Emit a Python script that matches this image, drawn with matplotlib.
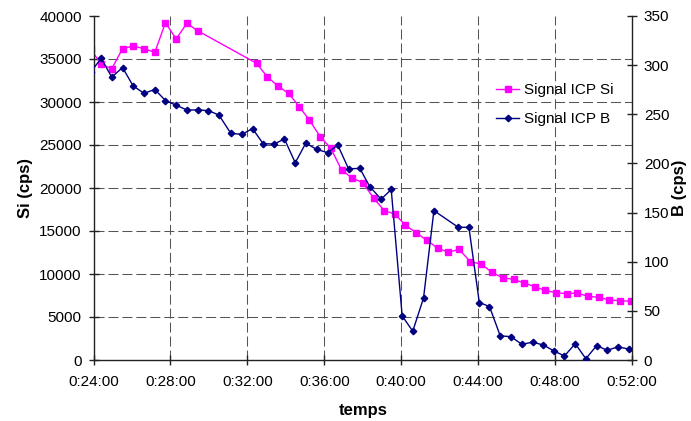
import matplotlib.pyplot as plt
from matplotlib.ticker import MultipleLocator, FuncFormatter

plt.rcParams['font.family'] = ['Liberation Sans', 'DejaVu Sans']

# times in minutes after 0:00:00
t_si = [23.85, 24.40, 24.95, 25.51, 26.06, 26.62, 27.19, 27.74, 28.30, 28.85,
        29.41, 32.48, 33.03, 33.58, 34.14, 34.70, 35.23, 35.79, 36.34, 36.90,
        37.45, 38.00, 38.56, 39.12, 39.67, 40.22, 40.78, 41.33, 41.89, 42.45,
        43.00, 43.60, 44.16, 44.71, 45.27, 45.84, 46.40, 46.95, 47.49, 48.04,
        48.61, 49.15, 49.70, 50.26, 50.82, 51.37, 51.93]
si = [36160, 34380, 33870, 36200, 36510, 36200, 35780, 39220, 37330, 39150,
      38290, 34500, 32950, 31860, 31010, 29460, 27870, 25970, 24610, 22090,
      21160, 20620, 18840, 17360, 16980, 15660, 14810, 13920, 13020, 12520,
      12870, 11430, 11160, 10200, 9570, 9380, 8950, 8520, 8100, 7830,
      7710, 7790, 7410, 7290, 6980, 6900, 6830]

t_b = [23.85, 24.40, 24.95, 25.51, 26.06, 26.62, 27.19, 27.74, 28.30, 28.85,
       29.41, 29.96, 30.52, 31.14, 31.71, 32.27, 32.82, 33.38, 33.93, 34.49,
       35.04, 35.60, 36.18, 36.70, 37.26, 37.85, 38.37, 38.96, 39.48, 40.05,
       40.60, 41.16, 41.70, 42.97, 43.52, 44.06, 44.59, 45.15, 45.70, 46.27,
       46.83, 47.39, 47.94, 48.49, 49.05, 49.60, 50.16, 50.71, 51.26, 51.84,
       52.39]
b = [293, 306.8, 287.8, 297.6, 278.9, 271.4, 275.2, 264.0, 259.2, 254.4,
     254.4, 253.8, 249.3, 230.6, 229.6, 235.4, 220.1, 219.7, 224.8, 200.7,
     220.7, 214.3, 210.9, 218.7, 194.6, 194.9, 176.2, 163.6, 173.5, 44.9,
     29.3, 63.0, 152.0, 135.0, 135.0, 58.5, 54.4, 24.5, 23.8, 16.0,
     18.1, 15.3, 9.2, 4.1, 16.6, 1.3, 14.6, 9.9, 13.3, 11.2,
     4.0]

fig = plt.figure(figsize=(6.91, 4.21), dpi=100)
ax = fig.add_axes([93.5/691, 61/421, 538.5/691, 344/421])
ax2 = ax.twinx()

grid_style = dict(color='#555555', lw=0.75, linestyle=(0, (9.6, 3.8)))
for v in range(5000, 40000, 5000):
    ax.axhline(v, zorder=0, **grid_style)
for m in range(28, 52, 4):
    ax.axvline(m, zorder=0, **grid_style)

l1, = ax.plot(t_si, si, color='#ff00ff', lw=1, marker='s', markersize=4.5,
              label='Signal ICP Si')
l2, = ax2.plot(t_b, b, color='#000080', lw=1, marker='D', markersize=3.3,
               label='Signal ICP B')

ax.set_xlim(24, 52)
ax.set_ylim(0, 40000)
ax2.set_ylim(0, 350)
ax.xaxis.set_major_locator(MultipleLocator(4))
ax.xaxis.set_major_formatter(FuncFormatter(lambda x, p: '0:%02d:00' % round(x)))
ax.yaxis.set_major_locator(MultipleLocator(5000))
ax2.yaxis.set_major_locator(MultipleLocator(50))

for a in (ax, ax2):
    a.spines['top'].set_visible(False)
    for s in a.spines.values():
        s.set_color('#222222')
        s.set_linewidth(1)
    a.tick_params(direction='inout', length=7, width=1, color='#222222',
                  labelsize=11, pad=5)
ax.tick_params(axis='x', pad=7)
ax.spines['right'].set_visible(False)
ax2.spines['left'].set_visible(False)
ax2.spines['bottom'].set_visible(False)

ax.set_xlabel('temps', fontsize=12, fontweight='bold')
ax.xaxis.set_label_coords(0.5, -0.125)
ax.set_ylabel('Si (cps)', fontsize=12, fontweight='bold')
ax.yaxis.set_label_coords(-0.112, 0.5)
ax2.set_ylabel('B (cps)', fontsize=12, fontweight='bold')
ax2.yaxis.set_label_coords(1.074, 0.5)

ax2.legend(handles=[l1, l2], loc='upper left', bbox_to_anchor=(0.722, 0.845),
           frameon=False, fontsize=11, handlelength=1.5, handletextpad=0.3,
           labelspacing=1.0)

fig.savefig('out.png', dpi=100)
